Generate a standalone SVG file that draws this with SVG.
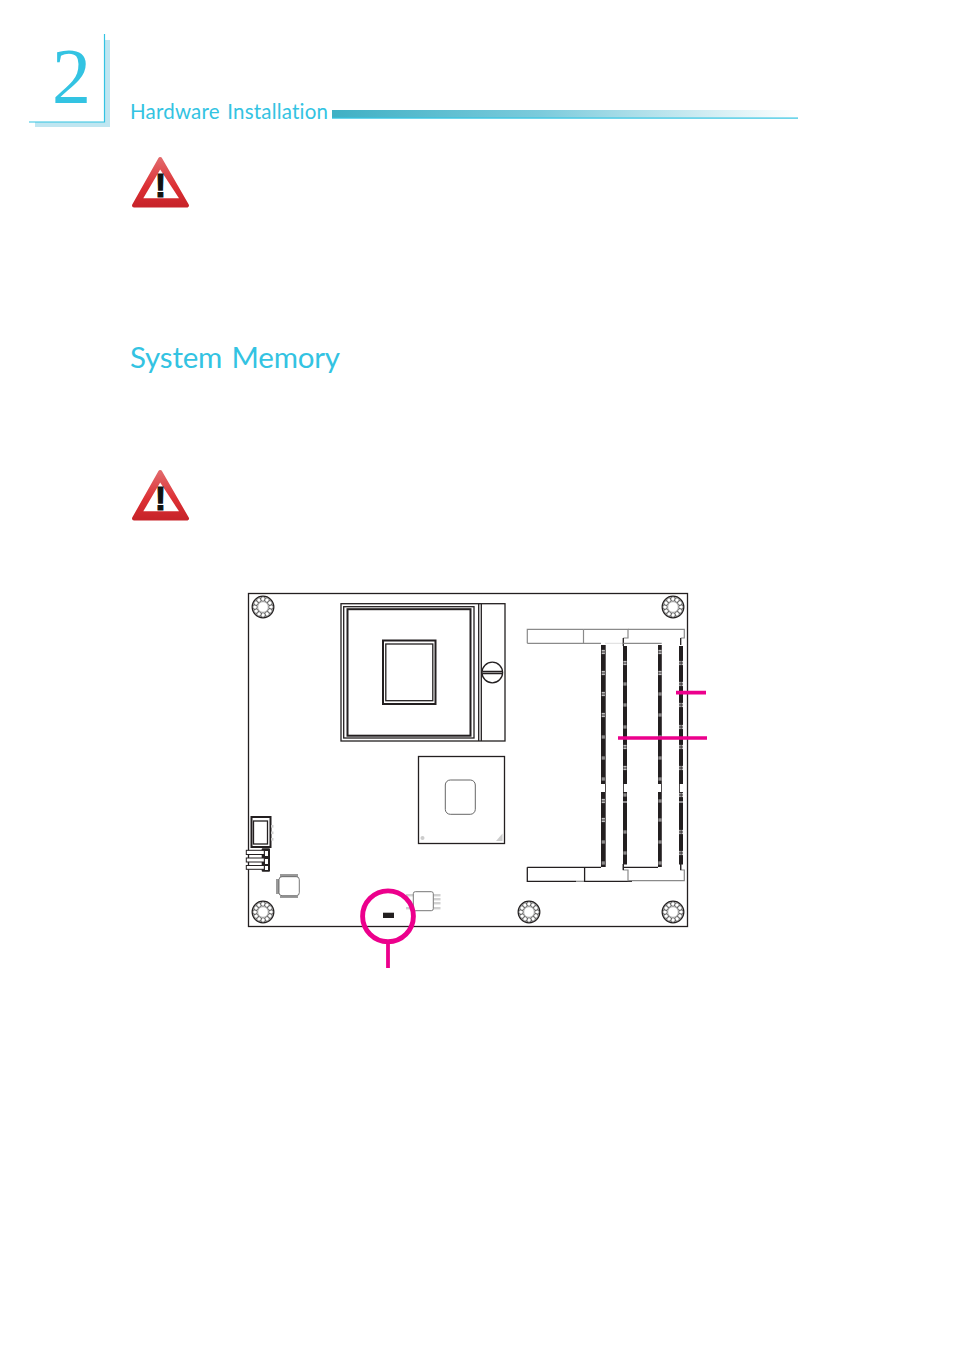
<svg xmlns="http://www.w3.org/2000/svg" xmlns:xlink="http://www.w3.org/1999/xlink" width="954" height="1350" viewBox="0 0 954 1350">
<style>
.cy{fill:#33c3e2;font-family:"Lato","Open Sans","Liberation Sans",sans-serif;font-variant-ligatures:none;word-spacing:2px}
.k{fill:none;stroke:#231f20;stroke-width:1.3}
.k2{fill:none;stroke:#231f20;stroke-width:2}
.g{fill:none;stroke:#8a8a8a;stroke-width:1.2}
.bar{fill:#231f20}
.tick{stroke:#fff;stroke-width:.8;fill:none}
.pink{stroke:#ec008c;fill:none}
.pin{fill:#d0d0d0}
.ball{fill:#fff;stroke:#333;stroke-width:.75}
</style>
<defs>
<linearGradient id="hg" x1="0" x2="1" y1="0" y2="0">
<stop offset="0" stop-color="#3fb0c4"/><stop offset=".45" stop-color="#7ccbdc"/><stop offset="1" stop-color="#ffffff"/>
</linearGradient>
<linearGradient id="tri" x1="0" x2="0" y1="0" y2="1">
<stop offset="0" stop-color="#e2686a"/><stop offset=".6" stop-color="#dc2f33"/><stop offset="1" stop-color="#c8242a"/>
</linearGradient>
<g id="screw">
<circle r="10.8" fill="#fff" stroke="#231f20" stroke-width="1.3"/>
<circle class="ball" cx="8" cy="0" r="2.3"/><circle class="ball" cx="6.9" cy="4" r="2.3"/><circle class="ball" cx="4" cy="6.9" r="2.3"/><circle class="ball" cx="0" cy="8" r="2.3"/><circle class="ball" cx="-4" cy="6.9" r="2.3"/><circle class="ball" cx="-6.9" cy="4" r="2.3"/><circle class="ball" cx="-8" cy="0" r="2.3"/><circle class="ball" cx="-6.9" cy="-4" r="2.3"/><circle class="ball" cx="-4" cy="-6.9" r="2.3"/><circle class="ball" cx="0" cy="-8" r="2.3"/><circle class="ball" cx="4" cy="-6.9" r="2.3"/><circle class="ball" cx="6.9" cy="-4" r="2.3"/>
<circle r="5.2" fill="#fff" stroke="#888" stroke-width=".5"/>
</g>
<g id="warn">
<path d="M29.2 3 L56 49.5 L3 49.5 Z" fill="url(#tri)" stroke="url(#tri)" stroke-width="4" stroke-linejoin="round"/>
<path d="M29.2 13.5 L12.3 42.3 L48 42.3 Z" fill="#fff"/>
<text x="29.5" y="41" text-anchor="middle" font-family="Liberation Sans, sans-serif" font-weight="700" font-size="33" fill="#111" stroke="#111" stroke-width="1.2">!</text>
</g>
<path id="t3" class="tick" d="M-1.6 -1.6h3.2M-1.6 0h3.2M-1.6 1.6h3.2"/>
<path id="t1" class="tick" d="M-1.6 -.9h3.2M-1.6 .9h3.2"/>
<path id="t2" class="tick" d="M-1.8 -1.6h1.5M.5 -1.6h1.5M-1.8 0h1.5M.5 0h1.5M-1.8 1.6h1.5M.5 1.6h1.5"/>
</defs>

<g id="header">
<path d="M105 40h5v87H35v-5h70z" fill="#bfe6f1"/>
<path d="M104.5 34V122H29" fill="none" stroke="#33c3e2" stroke-width="1.2"/>
<text x="52" y="102" font-family="Liberation Serif, serif" font-size="78" fill="#33c3e2">2</text>
<text class="cy" x="130" y="119" font-size="20.5" textLength="198" lengthAdjust="spacing">Hardware Installation</text>
<rect x="332" y="110" width="466" height="8" fill="url(#hg)"/>
<rect x="332" y="117.5" width="466" height="1.2" fill="#33c3e2"/>
</g>

<use id="warning-1" xlink:href="#warn" href="#warn" x="131" y="156"/>
<text id="section-title" class="cy" x="130" y="368.3" font-size="29.5" textLength="210" lengthAdjust="spacing">System Memory</text>
<use id="warning-2" xlink:href="#warn" href="#warn" x="131" y="469"/>

<g id="board">
<rect x="248.5" y="593.5" width="439" height="333" fill="#fff" stroke="#231f20" stroke-width="1.3"/>
<use xlink:href="#screw" href="#screw" x="263" y="607"/>
<use xlink:href="#screw" href="#screw" x="673" y="607"/>
<use xlink:href="#screw" href="#screw" x="263" y="912"/>
<use xlink:href="#screw" href="#screw" x="529" y="912"/>
<use xlink:href="#screw" href="#screw" x="673" y="912"/>
</g>

<g id="cpu-socket">
<rect x="341" y="603.7" width="164" height="137.3" class="k"/>
<rect x="343.7" y="606.7" width="130.3" height="131.3" class="k"/>
<rect x="347.5" y="609.2" width="123" height="126.5" class="k2"/>
<path d="M478.7 604V741M481.3 604V741" class="k"/>
<rect x="383" y="640.5" width="52.5" height="63.5" class="k2"/>
<rect x="385.8" y="644" width="47" height="56.7" class="k"/>
<circle cx="492.3" cy="672.5" r="10.3" class="k"/>
<path d="M482.5 671.5H502M482.5 673.5H502" class="k" stroke-width=".9"/>
</g>

<g id="chipset">
<rect x="418.5" y="756.5" width="86" height="87" class="k"/>
<rect x="445.3" y="780" width="30" height="34.3" rx="5" fill="none" stroke="#666" stroke-width="1"/>
<circle cx="422.5" cy="838" r="2" fill="#ccc"/>
<path d="M502.5 833.5V841H496Z" fill="#ccc"/>
</g>

<g id="memory-sockets">
<g id="socket-top">
<path d="M527.3 643.3V629.3H583.5" class="g"/>
<path d="M527.3 643.3H601" class="g"/>
<path d="M583.5 629.3V643.3" class="g" stroke="#bbb"/>
<path d="M583.5 629.3H628V638H623.3" class="g"/>
<path d="M605 643.3H623.3" fill="none" stroke="#ddd" stroke-width="1"/>
<path d="M628 629.3H684.3V638H680.7" class="g"/>
<path d="M623.3 638V646M680.7 638V645" class="k" stroke-width="1"/>
<path d="M623.3 643.3H661.7" class="g" stroke="#555"/>
</g>
<g id="socket-bottom">
<path d="M527.3 867.3V881.3H576M527.3 867.3H601" class="k"/>
<path d="M576 881.3H584.3" class="g"/>
<path d="M584.6 867.3V881.3H632" class="k"/>
<path d="M623.3 867.3H658" class="k"/>
<path d="M623.3 864V870H628V880.7H684.3V870H680.7V864" class="g"/>
<path d="M623.3 864V870M680.7 864V870" class="k" stroke-width="1"/>
</g>
<g id="bars">
<rect class="bar" x="601" y="645" width="4.7" height="139"/><rect class="bar" x="601" y="792" width="4.7" height="75"/><rect class="bar" x="605" y="784" width=".8" height="8"/>
<rect class="bar" x="623" y="646" width="4" height="138"/><rect class="bar" x="623" y="792" width="4" height="9.5"/><rect class="bar" x="623" y="802.5" width="4" height="62"/><rect class="bar" x="623" y="784" width=".8" height="8"/>
<rect class="bar" x="658" y="645" width="3.8" height="139"/><rect class="bar" x="658" y="792" width="3.8" height="75"/><rect class="bar" x="661" y="784" width=".8" height="8"/>
<rect class="bar" x="679" y="646" width="4" height="138"/><rect class="bar" x="679" y="792" width="4" height="9.5"/><rect class="bar" x="679" y="802.5" width="4" height="62"/><rect class="bar" x="679" y="784" width=".8" height="8"/>
</g>
<g id="ticks">
<use href="#t3" xlink:href="#t3" x="603.3" y="652"/><use href="#t3" xlink:href="#t3" x="603.3" y="673"/><use href="#t3" xlink:href="#t3" x="603.3" y="694"/><use href="#t3" xlink:href="#t3" x="603.3" y="715"/><use href="#t1" xlink:href="#t1" x="603.3" y="737"/><use href="#t1" xlink:href="#t1" x="603.3" y="758"/><use href="#t1" xlink:href="#t1" x="603.3" y="779"/><use href="#t3" xlink:href="#t3" x="603.3" y="801"/><use href="#t3" xlink:href="#t3" x="603.3" y="820"/><use href="#t1" xlink:href="#t1" x="603.3" y="842"/><use href="#t1" xlink:href="#t1" x="603.3" y="863"/>
<use href="#t3" xlink:href="#t3" x="625" y="663"/><use href="#t1" xlink:href="#t1" x="625" y="684"/><use href="#t1" xlink:href="#t1" x="625" y="705"/><use href="#t1" xlink:href="#t1" x="625" y="727"/><use href="#t3" xlink:href="#t3" x="625" y="747"/><use href="#t3" xlink:href="#t3" x="625" y="768"/><use href="#t1" xlink:href="#t1" x="625" y="795"/><use href="#t1" xlink:href="#t1" x="625" y="832"/><use href="#t1" xlink:href="#t1" x="625" y="853"/>
<use href="#t3" xlink:href="#t3" x="660" y="652"/><use href="#t3" xlink:href="#t3" x="660" y="673"/><use href="#t1" xlink:href="#t1" x="660" y="694"/><use href="#t1" xlink:href="#t1" x="660" y="715"/><use href="#t1" xlink:href="#t1" x="660" y="737"/><use href="#t1" xlink:href="#t1" x="660" y="758"/><use href="#t1" xlink:href="#t1" x="660" y="779"/><use href="#t1" xlink:href="#t1" x="660" y="801"/><use href="#t1" xlink:href="#t1" x="660" y="820"/><use href="#t1" xlink:href="#t1" x="660" y="842"/><use href="#t1" xlink:href="#t1" x="660" y="863"/>
<use href="#t2" xlink:href="#t2" x="681" y="663"/><use href="#t2" xlink:href="#t2" x="681" y="684"/><use href="#t2" xlink:href="#t2" x="681" y="705"/><use href="#t2" xlink:href="#t2" x="681" y="727"/><use href="#t2" xlink:href="#t2" x="681" y="747"/><use href="#t2" xlink:href="#t2" x="681" y="768"/><use href="#t2" xlink:href="#t2" x="681" y="795"/><use href="#t2" xlink:href="#t2" x="681" y="832"/><use href="#t2" xlink:href="#t2" x="681" y="853"/>
</g>
</g>

<g id="left-connector">
<rect x="251.5" y="817" width="19" height="30" class="k2"/>
<rect x="253.5" y="821" width="14" height="23" class="k" fill="#fff"/>
<rect class="pin" x="271" y="825" width="2.5" height="2.6"/><rect class="pin" x="271" y="831.5" width="2.5" height="2.6"/><rect class="pin" x="271" y="838" width="2.5" height="2.6"/>
</g>
<g id="left-header">
<rect x="261.7" y="848.3" width="8.3" height="23.4" rx="1" fill="#231f20"/>
<rect x="246.3" y="850.3" width="18" height="4.2" fill="#fff" stroke="#231f20"/>
<rect x="246.3" y="858" width="18" height="4" fill="#fff" stroke="#231f20"/>
<rect x="246.3" y="865.5" width="18" height="3.8" fill="#fff" stroke="#231f20"/>
<rect x="265" y="851" width="3" height="5" fill="#fff"/><rect x="265" y="859" width="3" height="5" fill="#fff"/><rect x="265" y="866" width="3" height="4" fill="#fff"/>
</g>
<g id="small-ic">
<rect x="280" y="874" width="18" height="3" fill="#9a9a9a"/>
<rect x="280" y="895.5" width="18" height="2.5" fill="#9a9a9a"/>
<rect x="276" y="879" width="3" height="15" fill="#9a9a9a"/>
<rect x="279" y="876.7" width="20.3" height="19" rx="3" fill="#fff" stroke="#555" stroke-width=".8"/>
</g>
<g id="transistor">
<rect class="pin" x="433.5" y="894" width="7" height="2.4"/><rect class="pin" x="433.5" y="898" width="7" height="2.4"/><rect class="pin" x="433.5" y="902" width="7" height="2.4"/><rect class="pin" x="433.5" y="907" width="7" height="2.4"/>
<rect class="pin" x="406" y="894" width="7.5" height="2.4"/><rect class="pin" x="406" y="907" width="7.5" height="2.4"/>
<rect x="413.3" y="891.7" width="20" height="19" rx="2" fill="#fff" stroke="#777" stroke-width="1"/>
</g>

<g id="callouts">
<path class="pink" stroke-width="3.7" d="M676 692.7H706M618 738H707"/>
<rect x="383" y="912.7" width="11" height="5.3" fill="#231f20"/>
<circle class="pink" cx="388" cy="916.3" r="25.4" stroke-width="4.9"/>
<path class="pink" stroke-width="3.8" d="M388 942V968"/>
</g>
</svg>
